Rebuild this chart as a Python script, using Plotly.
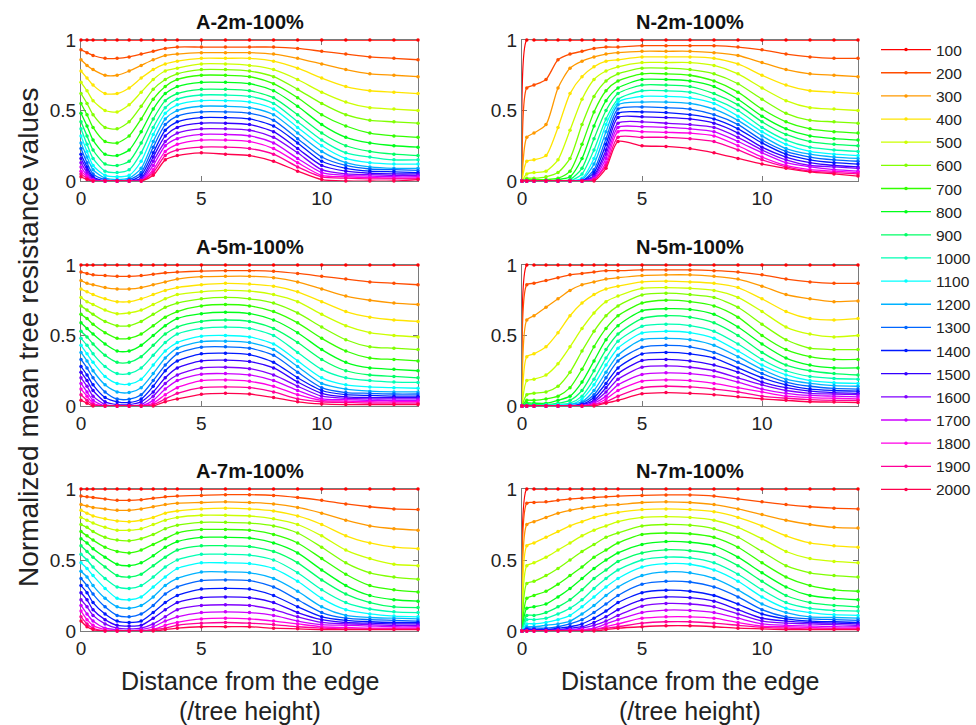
import colorsys
import plotly.graph_objects as go

LEVELS = ["100", "200", "300", "400", "500", "600", "700", "800", "900", "1000",
          "1100", "1200", "1300", "1400", "1500", "1600", "1700", "1800", "1900", "2000"]

X_A = [0, 0.25, 0.5, 1, 1.5, 2, 2.5, 3, 3.5, 4, 5, 6, 7, 8, 9, 10, 11, 12, 13, 14]
X_N = [0, 0.2, 0.5, 1, 1.5, 2, 2.5, 3, 3.5, 4, 5, 6, 7, 8, 9, 10, 11, 12, 13, 14]

A2 = [
    [1, 1, 1, 1, 1, 1, 1, 1, 1, 1, 1, 1, 1, 1, 1, 1, 1, 1, 1, 1],
    [0.93, 0.91, 0.89, 0.87, 0.87, 0.88, 0.90, 0.92, 0.94, 0.95, 0.95, 0.95, 0.95, 0.95, 0.94, 0.92, 0.90, 0.88, 0.87, 0.86],
    [0.86, 0.82, 0.79, 0.75, 0.75, 0.78, 0.82, 0.86, 0.89, 0.90, 0.91, 0.91, 0.91, 0.90, 0.87, 0.83, 0.79, 0.76, 0.75, 0.74],
    [0.78, 0.73, 0.68, 0.62, 0.62, 0.66, 0.73, 0.79, 0.83, 0.85, 0.87, 0.87, 0.87, 0.85, 0.80, 0.73, 0.67, 0.64, 0.63, 0.62],
    [0.70, 0.64, 0.57, 0.50, 0.49, 0.54, 0.63, 0.72, 0.78, 0.80, 0.83, 0.83, 0.82, 0.79, 0.72, 0.63, 0.56, 0.52, 0.51, 0.50],
    [0.62, 0.55, 0.47, 0.38, 0.37, 0.42, 0.53, 0.65, 0.72, 0.76, 0.79, 0.79, 0.78, 0.74, 0.65, 0.55, 0.47, 0.43, 0.42, 0.41],
    [0.55, 0.47, 0.38, 0.28, 0.27, 0.32, 0.44, 0.58, 0.67, 0.72, 0.75, 0.75, 0.74, 0.69, 0.59, 0.47, 0.39, 0.34, 0.32, 0.31],
    [0.48, 0.39, 0.29, 0.19, 0.18, 0.22, 0.35, 0.51, 0.62, 0.67, 0.70, 0.70, 0.69, 0.64, 0.53, 0.40, 0.31, 0.27, 0.25, 0.24],
    [0.42, 0.32, 0.22, 0.12, 0.11, 0.14, 0.27, 0.44, 0.57, 0.62, 0.65, 0.65, 0.64, 0.59, 0.47, 0.34, 0.25, 0.21, 0.19, 0.18],
    [0.37, 0.26, 0.16, 0.07, 0.06, 0.08, 0.20, 0.38, 0.52, 0.58, 0.61, 0.61, 0.60, 0.55, 0.42, 0.29, 0.20, 0.17, 0.15, 0.15],
    [0.32, 0.21, 0.11, 0.04, 0.03, 0.04, 0.14, 0.33, 0.48, 0.54, 0.57, 0.57, 0.56, 0.51, 0.38, 0.25, 0.16, 0.13, 0.12, 0.12],
    [0.27, 0.17, 0.08, 0.02, 0.01, 0.02, 0.09, 0.28, 0.44, 0.50, 0.53, 0.53, 0.52, 0.47, 0.34, 0.21, 0.13, 0.10, 0.09, 0.09],
    [0.23, 0.13, 0.05, 0.01, 0, 0.01, 0.06, 0.24, 0.40, 0.46, 0.49, 0.49, 0.48, 0.43, 0.30, 0.17, 0.11, 0.085, 0.08, 0.075],
    [0.19, 0.10, 0.03, 0, 0, 0, 0.04, 0.20, 0.36, 0.42, 0.45, 0.45, 0.44, 0.39, 0.27, 0.14, 0.09, 0.07, 0.065, 0.06],
    [0.16, 0.08, 0.02, 0, 0, 0, 0.02, 0.17, 0.32, 0.38, 0.41, 0.41, 0.40, 0.35, 0.23, 0.11, 0.07, 0.055, 0.05, 0.05],
    [0.13, 0.06, 0.01, 0, 0, 0, 0.01, 0.14, 0.28, 0.34, 0.37, 0.37, 0.36, 0.31, 0.20, 0.08, 0.05, 0.045, 0.04, 0.04],
    [0.10, 0.04, 0.01, 0, 0, 0, 0, 0.11, 0.25, 0.30, 0.33, 0.33, 0.32, 0.27, 0.16, 0.06, 0.04, 0.035, 0.03, 0.03],
    [0.07, 0.03, 0, 0, 0, 0, 0, 0.08, 0.21, 0.26, 0.29, 0.29, 0.28, 0.23, 0.13, 0.04, 0.03, 0.025, 0.02, 0.02],
    [0.05, 0.02, 0, 0, 0, 0, 0, 0.06, 0.18, 0.22, 0.24, 0.24, 0.23, 0.19, 0.10, 0.03, 0.02, 0.015, 0.015, 0.015],
    [0.03, 0.01, 0, 0, 0, 0, 0, 0.04, 0.15, 0.18, 0.20, 0.19, 0.18, 0.14, 0.07, 0.01, 0, 0, 0, 0.01],
]

N2 = [
    [0, 1, 1, 1, 1, 1, 1, 1, 1, 1, 1, 1, 1, 1, 1, 1, 1, 1, 1, 1],
    [0, 0.66, 0.68, 0.72, 0.86, 0.90, 0.92, 0.94, 0.95, 0.95, 0.96, 0.96, 0.96, 0.96, 0.95, 0.93, 0.90, 0.88, 0.87, 0.87],
    [0, 0.31, 0.34, 0.40, 0.66, 0.80, 0.85, 0.88, 0.90, 0.91, 0.92, 0.92, 0.92, 0.91, 0.89, 0.84, 0.79, 0.76, 0.75, 0.74],
    [0, 0.14, 0.15, 0.18, 0.38, 0.62, 0.74, 0.81, 0.85, 0.86, 0.88, 0.88, 0.88, 0.87, 0.83, 0.75, 0.68, 0.64, 0.63, 0.62],
    [0, 0.05, 0.06, 0.07, 0.15, 0.36, 0.58, 0.72, 0.78, 0.81, 0.84, 0.84, 0.84, 0.82, 0.76, 0.66, 0.57, 0.52, 0.51, 0.50],
    [0, 0.02, 0.02, 0.03, 0.06, 0.16, 0.40, 0.60, 0.71, 0.76, 0.80, 0.80, 0.79, 0.76, 0.69, 0.58, 0.48, 0.43, 0.42, 0.41],
    [0, 0.01, 0.01, 0.01, 0.02, 0.07, 0.26, 0.49, 0.64, 0.71, 0.76, 0.76, 0.75, 0.71, 0.63, 0.51, 0.42, 0.37, 0.35, 0.34],
    [0, 0, 0, 0, 0.01, 0.03, 0.16, 0.39, 0.57, 0.66, 0.72, 0.72, 0.71, 0.67, 0.58, 0.46, 0.37, 0.32, 0.30, 0.29],
    [0, 0, 0, 0, 0, 0.01, 0.09, 0.30, 0.50, 0.62, 0.68, 0.68, 0.67, 0.62, 0.54, 0.42, 0.33, 0.28, 0.26, 0.25],
    [0, 0, 0, 0, 0, 0, 0.05, 0.22, 0.44, 0.58, 0.64, 0.64, 0.63, 0.58, 0.50, 0.38, 0.29, 0.24, 0.22, 0.21],
    [0, 0, 0, 0, 0, 0, 0.02, 0.16, 0.40, 0.56, 0.60, 0.60, 0.59, 0.55, 0.46, 0.35, 0.26, 0.21, 0.19, 0.18],
    [0, 0, 0, 0, 0, 0, 0.01, 0.12, 0.35, 0.54, 0.56, 0.56, 0.55, 0.51, 0.43, 0.32, 0.23, 0.19, 0.17, 0.16],
    [0, 0, 0, 0, 0, 0, 0, 0.08, 0.30, 0.51, 0.525, 0.52, 0.51, 0.47, 0.40, 0.29, 0.21, 0.17, 0.15, 0.14],
    [0, 0, 0, 0, 0, 0, 0, 0.06, 0.26, 0.48, 0.49, 0.485, 0.47, 0.44, 0.37, 0.27, 0.19, 0.15, 0.13, 0.12],
    [0, 0, 0, 0, 0, 0, 0, 0.04, 0.22, 0.45, 0.455, 0.45, 0.44, 0.41, 0.34, 0.24, 0.17, 0.13, 0.11, 0.10],
    [0, 0, 0, 0, 0, 0, 0, 0.03, 0.19, 0.41, 0.42, 0.41, 0.40, 0.38, 0.31, 0.22, 0.15, 0.11, 0.10, 0.09],
    [0, 0, 0, 0, 0, 0, 0, 0.02, 0.16, 0.38, 0.385, 0.38, 0.37, 0.35, 0.28, 0.20, 0.13, 0.10, 0.08, 0.07],
    [0, 0, 0, 0, 0, 0, 0, 0.01, 0.13, 0.35, 0.35, 0.345, 0.34, 0.32, 0.25, 0.17, 0.11, 0.08, 0.07, 0.06],
    [0, 0, 0, 0, 0, 0, 0, 0.01, 0.11, 0.31, 0.31, 0.31, 0.30, 0.28, 0.22, 0.15, 0.10, 0.07, 0.06, 0.05],
    [0, 0, 0, 0, 0, 0, 0, 0, 0.09, 0.28, 0.25, 0.245, 0.23, 0.20, 0.16, 0.12, 0.09, 0.065, 0.05, 0.035],
]

A5 = [
    [1, 1, 1, 1, 1, 1, 1, 1, 1, 1, 1, 1, 1, 1, 1, 1, 1, 1, 1, 1],
    [0.95, 0.94, 0.93, 0.925, 0.92, 0.92, 0.925, 0.935, 0.945, 0.95, 0.957, 0.96, 0.96, 0.955, 0.94, 0.92, 0.90, 0.88, 0.87, 0.86],
    [0.89, 0.87, 0.86, 0.84, 0.83, 0.83, 0.84, 0.86, 0.88, 0.90, 0.917, 0.92, 0.92, 0.91, 0.88, 0.83, 0.78, 0.75, 0.73, 0.72],
    [0.83, 0.81, 0.79, 0.76, 0.74, 0.74, 0.76, 0.79, 0.82, 0.84, 0.86, 0.87, 0.865, 0.85, 0.81, 0.74, 0.67, 0.63, 0.61, 0.60],
    [0.77, 0.74, 0.72, 0.68, 0.655, 0.66, 0.68, 0.72, 0.76, 0.79, 0.81, 0.82, 0.815, 0.79, 0.74, 0.65, 0.57, 0.52, 0.50, 0.49],
    [0.71, 0.68, 0.65, 0.60, 0.57, 0.57, 0.60, 0.65, 0.70, 0.73, 0.76, 0.77, 0.76, 0.73, 0.66, 0.56, 0.47, 0.42, 0.41, 0.40],
    [0.65, 0.62, 0.58, 0.52, 0.48, 0.48, 0.51, 0.57, 0.63, 0.67, 0.71, 0.72, 0.71, 0.67, 0.59, 0.48, 0.39, 0.34, 0.33, 0.32],
    [0.59, 0.55, 0.51, 0.44, 0.39, 0.39, 0.43, 0.50, 0.57, 0.62, 0.655, 0.665, 0.655, 0.61, 0.52, 0.40, 0.31, 0.27, 0.26, 0.25],
    [0.53, 0.49, 0.44, 0.36, 0.31, 0.31, 0.35, 0.43, 0.51, 0.56, 0.60, 0.61, 0.60, 0.55, 0.45, 0.33, 0.25, 0.22, 0.21, 0.20],
    [0.48, 0.43, 0.37, 0.28, 0.23, 0.23, 0.27, 0.36, 0.45, 0.51, 0.55, 0.56, 0.55, 0.50, 0.38, 0.26, 0.20, 0.18, 0.17, 0.167],
    [0.43, 0.37, 0.31, 0.21, 0.16, 0.155, 0.19, 0.29, 0.39, 0.45, 0.495, 0.50, 0.49, 0.44, 0.32, 0.20, 0.15, 0.135, 0.13, 0.126],
    [0.38, 0.32, 0.25, 0.15, 0.10, 0.095, 0.13, 0.23, 0.34, 0.41, 0.457, 0.46, 0.45, 0.40, 0.28, 0.16, 0.12, 0.105, 0.10, 0.10],
    [0.33, 0.27, 0.20, 0.10, 0.05, 0.048, 0.08, 0.18, 0.29, 0.37, 0.417, 0.42, 0.41, 0.36, 0.24, 0.13, 0.095, 0.09, 0.085, 0.085],
    [0.28, 0.22, 0.15, 0.06, 0.03, 0.025, 0.05, 0.14, 0.25, 0.32, 0.37, 0.375, 0.365, 0.31, 0.20, 0.11, 0.08, 0.075, 0.07, 0.07],
    [0.24, 0.18, 0.11, 0.03, 0.01, 0.01, 0.03, 0.10, 0.20, 0.27, 0.32, 0.325, 0.315, 0.27, 0.17, 0.09, 0.065, 0.06, 0.06, 0.06],
    [0.20, 0.14, 0.07, 0.01, 0, 0, 0.01, 0.07, 0.16, 0.22, 0.27, 0.275, 0.265, 0.22, 0.14, 0.07, 0.055, 0.05, 0.05, 0.05],
    [0.16, 0.10, 0.04, 0, 0, 0, 0, 0.04, 0.12, 0.18, 0.226, 0.23, 0.22, 0.18, 0.11, 0.05, 0.045, 0.04, 0.04, 0.04],
    [0.12, 0.07, 0.02, 0, 0, 0, 0, 0.02, 0.08, 0.13, 0.18, 0.185, 0.175, 0.14, 0.08, 0.04, 0.035, 0.03, 0.03, 0.03],
    [0.08, 0.04, 0.01, 0, 0, 0, 0, 0.01, 0.05, 0.09, 0.13, 0.135, 0.13, 0.10, 0.05, 0.03, 0.025, 0.02, 0.02, 0.02],
    [0.04, 0.02, 0, 0, 0, 0, 0, 0, 0.03, 0.05, 0.083, 0.09, 0.085, 0.06, 0.03, 0.015, 0.01, 0.01, 0.01, 0.01],
]

N5 = [
    [0, 1, 1, 1, 1, 1, 1, 1, 1, 1, 1, 1, 1, 1, 1, 1, 1, 1, 1, 1],
    [0, 0.86, 0.87, 0.89, 0.91, 0.93, 0.94, 0.95, 0.96, 0.96, 0.965, 0.965, 0.965, 0.96, 0.95, 0.93, 0.90, 0.88, 0.87, 0.87],
    [0, 0.61, 0.64, 0.70, 0.76, 0.82, 0.86, 0.88, 0.90, 0.91, 0.925, 0.93, 0.93, 0.92, 0.90, 0.85, 0.79, 0.76, 0.74, 0.745],
    [0, 0.35, 0.37, 0.42, 0.52, 0.64, 0.73, 0.79, 0.83, 0.85, 0.88, 0.885, 0.88, 0.87, 0.84, 0.76, 0.67, 0.62, 0.61, 0.62],
    [0, 0.18, 0.19, 0.22, 0.30, 0.42, 0.55, 0.66, 0.74, 0.78, 0.835, 0.84, 0.835, 0.82, 0.77, 0.67, 0.56, 0.51, 0.49, 0.50],
    [0, 0.08, 0.09, 0.10, 0.14, 0.24, 0.39, 0.53, 0.64, 0.71, 0.788, 0.80, 0.79, 0.77, 0.70, 0.58, 0.47, 0.41, 0.40, 0.40],
    [0, 0.04, 0.04, 0.05, 0.07, 0.13, 0.26, 0.42, 0.55, 0.64, 0.73, 0.75, 0.74, 0.71, 0.63, 0.50, 0.40, 0.35, 0.33, 0.33],
    [0, 0.02, 0.02, 0.02, 0.04, 0.07, 0.17, 0.32, 0.47, 0.57, 0.675, 0.69, 0.685, 0.65, 0.56, 0.44, 0.34, 0.29, 0.27, 0.27],
    [0, 0.01, 0.01, 0.01, 0.02, 0.04, 0.11, 0.25, 0.40, 0.51, 0.62, 0.64, 0.63, 0.59, 0.50, 0.38, 0.29, 0.25, 0.23, 0.22],
    [0, 0, 0, 0.01, 0.01, 0.02, 0.07, 0.19, 0.34, 0.46, 0.565, 0.58, 0.57, 0.53, 0.44, 0.33, 0.25, 0.21, 0.195, 0.19],
    [0, 0, 0, 0, 0.01, 0.01, 0.05, 0.15, 0.29, 0.41, 0.518, 0.53, 0.52, 0.48, 0.39, 0.29, 0.22, 0.18, 0.165, 0.16],
    [0, 0, 0, 0, 0, 0.01, 0.03, 0.11, 0.24, 0.36, 0.47, 0.48, 0.47, 0.43, 0.35, 0.26, 0.19, 0.16, 0.145, 0.14],
    [0, 0, 0, 0, 0, 0, 0.02, 0.08, 0.20, 0.32, 0.416, 0.43, 0.42, 0.38, 0.31, 0.23, 0.17, 0.14, 0.125, 0.12],
    [0, 0, 0, 0, 0, 0, 0.01, 0.06, 0.16, 0.27, 0.369, 0.38, 0.37, 0.34, 0.27, 0.20, 0.15, 0.12, 0.11, 0.105],
    [0, 0, 0, 0, 0, 0, 0.01, 0.04, 0.13, 0.23, 0.322, 0.33, 0.32, 0.29, 0.24, 0.17, 0.13, 0.105, 0.095, 0.09],
    [0, 0, 0, 0, 0, 0, 0, 0.03, 0.10, 0.19, 0.275, 0.285, 0.275, 0.25, 0.20, 0.15, 0.11, 0.09, 0.085, 0.08],
    [0, 0, 0, 0, 0, 0, 0, 0.02, 0.07, 0.15, 0.224, 0.235, 0.23, 0.21, 0.17, 0.12, 0.09, 0.075, 0.07, 0.065],
    [0, 0, 0, 0, 0, 0, 0, 0.01, 0.05, 0.11, 0.176, 0.185, 0.18, 0.16, 0.13, 0.10, 0.07, 0.06, 0.055, 0.05],
    [0, 0, 0, 0, 0, 0, 0, 0.01, 0.03, 0.07, 0.129, 0.14, 0.135, 0.12, 0.10, 0.07, 0.055, 0.045, 0.04, 0.04],
    [0, 0, 0, 0, 0, 0, 0, 0, 0.02, 0.04, 0.087, 0.095, 0.09, 0.08, 0.065, 0.05, 0.04, 0.03, 0.028, 0.025],
]

A7 = [
    [1, 1, 1, 1, 1, 1, 1, 1, 1, 1, 1, 1, 1, 1, 1, 1, 1, 1, 1, 1],
    [0.95, 0.945, 0.94, 0.93, 0.92, 0.92, 0.925, 0.935, 0.945, 0.95, 0.955, 0.96, 0.96, 0.955, 0.94, 0.92, 0.895, 0.875, 0.86, 0.855],
    [0.89, 0.88, 0.87, 0.86, 0.85, 0.85, 0.86, 0.875, 0.89, 0.90, 0.905, 0.91, 0.905, 0.895, 0.87, 0.83, 0.78, 0.74, 0.72, 0.71],
    [0.85, 0.83, 0.81, 0.79, 0.775, 0.77, 0.78, 0.80, 0.83, 0.845, 0.86, 0.865, 0.86, 0.845, 0.81, 0.75, 0.67, 0.62, 0.59, 0.58],
    [0.80, 0.78, 0.76, 0.73, 0.71, 0.71, 0.72, 0.75, 0.78, 0.80, 0.815, 0.815, 0.81, 0.79, 0.75, 0.67, 0.57, 0.51, 0.47, 0.46],
    [0.75, 0.73, 0.70, 0.66, 0.64, 0.635, 0.65, 0.68, 0.72, 0.745, 0.765, 0.765, 0.76, 0.74, 0.69, 0.59, 0.48, 0.41, 0.38, 0.365],
    [0.70, 0.67, 0.64, 0.59, 0.56, 0.55, 0.57, 0.61, 0.65, 0.69, 0.715, 0.715, 0.71, 0.68, 0.62, 0.51, 0.40, 0.32, 0.29, 0.275],
    [0.65, 0.62, 0.58, 0.52, 0.47, 0.46, 0.48, 0.53, 0.59, 0.63, 0.66, 0.66, 0.655, 0.62, 0.55, 0.43, 0.32, 0.25, 0.22, 0.21],
    [0.60, 0.56, 0.52, 0.45, 0.39, 0.38, 0.40, 0.46, 0.52, 0.57, 0.60, 0.60, 0.595, 0.56, 0.48, 0.36, 0.26, 0.20, 0.17, 0.165],
    [0.54, 0.50, 0.45, 0.37, 0.31, 0.30, 0.32, 0.38, 0.45, 0.50, 0.54, 0.54, 0.535, 0.50, 0.41, 0.29, 0.20, 0.155, 0.135, 0.13],
    [0.48, 0.44, 0.39, 0.30, 0.23, 0.22, 0.24, 0.31, 0.38, 0.44, 0.48, 0.48, 0.475, 0.44, 0.35, 0.23, 0.15, 0.12, 0.105, 0.10],
    [0.42, 0.38, 0.32, 0.23, 0.17, 0.16, 0.18, 0.24, 0.32, 0.37, 0.415, 0.416, 0.41, 0.37, 0.28, 0.17, 0.11, 0.095, 0.09, 0.085],
    [0.37, 0.32, 0.26, 0.17, 0.11, 0.10, 0.12, 0.18, 0.26, 0.31, 0.355, 0.36, 0.355, 0.31, 0.22, 0.13, 0.09, 0.08, 0.075, 0.07],
    [0.32, 0.27, 0.20, 0.12, 0.07, 0.06, 0.07, 0.13, 0.20, 0.25, 0.295, 0.30, 0.295, 0.25, 0.17, 0.10, 0.075, 0.065, 0.06, 0.06],
    [0.27, 0.22, 0.15, 0.08, 0.04, 0.035, 0.04, 0.09, 0.15, 0.20, 0.235, 0.24, 0.235, 0.20, 0.13, 0.08, 0.06, 0.055, 0.05, 0.05],
    [0.22, 0.17, 0.11, 0.05, 0.02, 0.015, 0.02, 0.05, 0.10, 0.15, 0.18, 0.185, 0.18, 0.15, 0.10, 0.06, 0.05, 0.045, 0.04, 0.04],
    [0.18, 0.12, 0.07, 0.02, 0.01, 0, 0.01, 0.03, 0.07, 0.10, 0.13, 0.135, 0.13, 0.11, 0.07, 0.045, 0.04, 0.035, 0.03, 0.03],
    [0.14, 0.08, 0.04, 0.01, 0, 0, 0, 0.01, 0.04, 0.06, 0.085, 0.09, 0.085, 0.07, 0.05, 0.03, 0.025, 0.02, 0.02, 0.02],
    [0.10, 0.05, 0.02, 0, 0, 0, 0, 0.01, 0.02, 0.04, 0.055, 0.06, 0.055, 0.045, 0.03, 0.02, 0.015, 0.015, 0.015, 0.015],
    [0.07, 0.03, 0.01, 0, 0, 0, 0, 0, 0.01, 0.02, 0.03, 0.03, 0.03, 0.02, 0.015, 0.01, 0.01, 0.01, 0.01, 0.01],
]

N7 = [
    [0, 1, 1, 1, 1, 1, 1, 1, 1, 1, 1, 1, 1, 1, 1, 1, 1, 1, 1, 1],
    [0, 0.90, 0.905, 0.91, 0.92, 0.93, 0.935, 0.94, 0.945, 0.95, 0.955, 0.958, 0.958, 0.95, 0.93, 0.91, 0.89, 0.875, 0.865, 0.86],
    [0, 0.75, 0.77, 0.80, 0.83, 0.85, 0.865, 0.875, 0.885, 0.89, 0.905, 0.91, 0.905, 0.89, 0.86, 0.82, 0.78, 0.75, 0.73, 0.725],
    [0, 0.60, 0.62, 0.66, 0.70, 0.74, 0.77, 0.80, 0.82, 0.835, 0.855, 0.86, 0.855, 0.84, 0.80, 0.74, 0.67, 0.62, 0.60, 0.59],
    [0, 0.46, 0.48, 0.52, 0.57, 0.62, 0.67, 0.71, 0.74, 0.77, 0.80, 0.806, 0.80, 0.78, 0.73, 0.65, 0.56, 0.51, 0.49, 0.48],
    [0, 0.335, 0.35, 0.39, 0.44, 0.50, 0.56, 0.61, 0.66, 0.69, 0.74, 0.75, 0.745, 0.72, 0.66, 0.56, 0.46, 0.41, 0.39, 0.38],
    [0, 0.23, 0.25, 0.28, 0.33, 0.39, 0.45, 0.52, 0.57, 0.62, 0.68, 0.69, 0.685, 0.66, 0.59, 0.48, 0.38, 0.32, 0.29, 0.28],
    [0, 0.16, 0.17, 0.19, 0.24, 0.30, 0.37, 0.44, 0.50, 0.55, 0.61, 0.63, 0.625, 0.60, 0.52, 0.41, 0.31, 0.25, 0.23, 0.22],
    [0, 0.11, 0.11, 0.13, 0.17, 0.22, 0.29, 0.37, 0.43, 0.49, 0.55, 0.572, 0.565, 0.54, 0.46, 0.35, 0.25, 0.20, 0.18, 0.17],
    [0, 0.08, 0.08, 0.09, 0.12, 0.16, 0.22, 0.30, 0.37, 0.43, 0.50, 0.52, 0.515, 0.48, 0.40, 0.29, 0.20, 0.16, 0.145, 0.14],
    [0, 0.05, 0.05, 0.06, 0.08, 0.11, 0.17, 0.24, 0.31, 0.37, 0.45, 0.474, 0.47, 0.43, 0.35, 0.24, 0.16, 0.13, 0.115, 0.11],
    [0, 0.03, 0.03, 0.04, 0.05, 0.07, 0.12, 0.18, 0.25, 0.31, 0.39, 0.416, 0.41, 0.37, 0.29, 0.19, 0.13, 0.10, 0.095, 0.09],
    [0, 0.02, 0.02, 0.02, 0.03, 0.05, 0.08, 0.13, 0.19, 0.25, 0.33, 0.35, 0.345, 0.31, 0.24, 0.15, 0.10, 0.085, 0.08, 0.075],
    [0, 0.01, 0.01, 0.01, 0.02, 0.03, 0.05, 0.09, 0.14, 0.20, 0.27, 0.287, 0.28, 0.25, 0.19, 0.12, 0.085, 0.07, 0.065, 0.06],
    [0, 0.01, 0.01, 0.01, 0.01, 0.02, 0.03, 0.06, 0.10, 0.15, 0.22, 0.24, 0.235, 0.21, 0.15, 0.09, 0.07, 0.06, 0.055, 0.05],
    [0, 0, 0, 0, 0.01, 0.01, 0.02, 0.04, 0.07, 0.11, 0.175, 0.194, 0.19, 0.17, 0.12, 0.07, 0.055, 0.05, 0.045, 0.04],
    [0, 0, 0, 0, 0, 0.01, 0.01, 0.02, 0.05, 0.08, 0.13, 0.147, 0.145, 0.13, 0.09, 0.05, 0.04, 0.035, 0.03, 0.03],
    [0, 0, 0, 0, 0, 0, 0.01, 0.01, 0.03, 0.05, 0.09, 0.10, 0.10, 0.09, 0.06, 0.035, 0.03, 0.025, 0.02, 0.02],
    [0, 0, 0, 0, 0, 0, 0, 0.01, 0.02, 0.03, 0.055, 0.065, 0.065, 0.055, 0.04, 0.025, 0.02, 0.015, 0.015, 0.015],
    [0, 0, 0, 0, 0, 0, 0, 0, 0.01, 0.02, 0.03, 0.037, 0.037, 0.03, 0.02, 0.015, 0.01, 0.01, 0.01, 0.01],
]

PANEL_TITLES = ["A-2m-100%", "N-2m-100%", "A-5m-100%", "N-5m-100%", "A-7m-100%", "N-7m-100%"]
PANEL_DATA = [A2, N2, A5, N5, A7, N7]
PANEL_X = [X_A, X_N, X_A, X_N, X_A, X_N]
X_TICKS = [0, 5, 10]
Y_TICKS = [0, 0.5, 1]
X_TITLE_1 = "Distance from the edge"
X_TITLE_2 = "(/tree height)"
Y_TITLE = "Normalized mean tree resistance values"

W, H = 976, 725
FONT = "Liberation Sans, Arial, Helvetica, sans-serif"

# pixel layout of the axes boxes
COL_PX = [(81, 418), (522, 858)]
ROW_PX = [(40, 181), (265, 406), (489, 631)]

colors = []
for i in range(len(LEVELS)):
    r, g, b = colorsys.hsv_to_rgb(i / len(LEVELS), 1, 1)
    colors.append("rgb(%d,%d,%d)" % (round(r * 255), round(g * 255), round(b * 255)))

fig = go.Figure()
annotations = []
layout_axes = {}

for p in range(6):
    row, col = divmod(p, 2)
    ax = "" if p == 0 else str(p + 1)
    x0, x1 = COL_PX[col]
    y0, y1 = ROW_PX[row]
    xdom = [x0 / W, x1 / W]
    ydom = [1 - y1 / H, 1 - y0 / H]
    common = dict(showline=True, mirror="ticks", linecolor="#7a7a7a", linewidth=1,
                  ticks="inside", ticklen=5, tickcolor="#7a7a7a", showgrid=False,
                  zeroline=False, automargin=False, layer="below traces",
                  tickfont=dict(family=FONT, size=19, color="#222"))
    layout_axes["xaxis" + ax] = dict(domain=xdom, range=[0, 14], tickvals=X_TICKS,
                                     anchor="y" + ax, **common)
    layout_axes["yaxis" + ax] = dict(domain=ydom, range=[0, 1], tickvals=Y_TICKS,
                                     anchor="x" + ax, **common)
    for i, name in enumerate(LEVELS):
        fig.add_trace(go.Scatter(
            x=PANEL_X[p], y=PANEL_DATA[p][i], name=name, mode="lines+markers",
            line=dict(color=colors[i], width=1.3, shape="spline", smoothing=0.7),
            marker=dict(color=colors[i], size=3.5),
            xaxis="x" + ax, yaxis="y" + ax, legendgroup=name,
            showlegend=(p == 0), cliponaxis=False))
    annotations.append(dict(text="<b>%s</b>" % PANEL_TITLES[p], x=(x0 + x1) / 2 / W,
                            y=1 - (y0 - 18) / H, xref="paper", yref="paper",
                            showarrow=False, xanchor="center", yanchor="middle",
                            font=dict(family=FONT, size=20, color="#111")))
    if row == 2:
        annotations.append(dict(text=X_TITLE_1, x=(x0 + x1) / 2 / W, y=1 - 681 / H,
                                xref="paper", yref="paper", showarrow=False,
                                xanchor="center", yanchor="middle",
                                font=dict(family=FONT, size=25, color="#222")))
        annotations.append(dict(text=X_TITLE_2, x=(x0 + x1) / 2 / W, y=1 - 711 / H,
                                xref="paper", yref="paper", showarrow=False,
                                xanchor="center", yanchor="middle",
                                font=dict(family=FONT, size=25, color="#222")))

annotations.append(dict(text=Y_TITLE, x=28 / W, y=1 - 337 / H, xref="paper", yref="paper",
                        showarrow=False, textangle=-90, xanchor="center", yanchor="middle",
                        font=dict(family=FONT, size=28, color="#222")))

fig.update_layout(
    width=W, height=H, autosize=False,
    margin=dict(l=0, r=0, t=0, b=0, pad=0, autoexpand=False),
    paper_bgcolor="white", plot_bgcolor="white",
    annotations=annotations,
    legend=dict(x=876 / W, y=1 - 33 / H, xanchor="left", yanchor="top",
                font=dict(family=FONT, size=15.5, color="#222"),
                bgcolor="rgba(0,0,0,0)", itemwidth=50, tracegroupgap=0),
    **layout_axes,
)

fig.write_html("out.html", config={"displayModeBar": False, "responsive": False},
               post_script="document.body.style.margin='0';")
